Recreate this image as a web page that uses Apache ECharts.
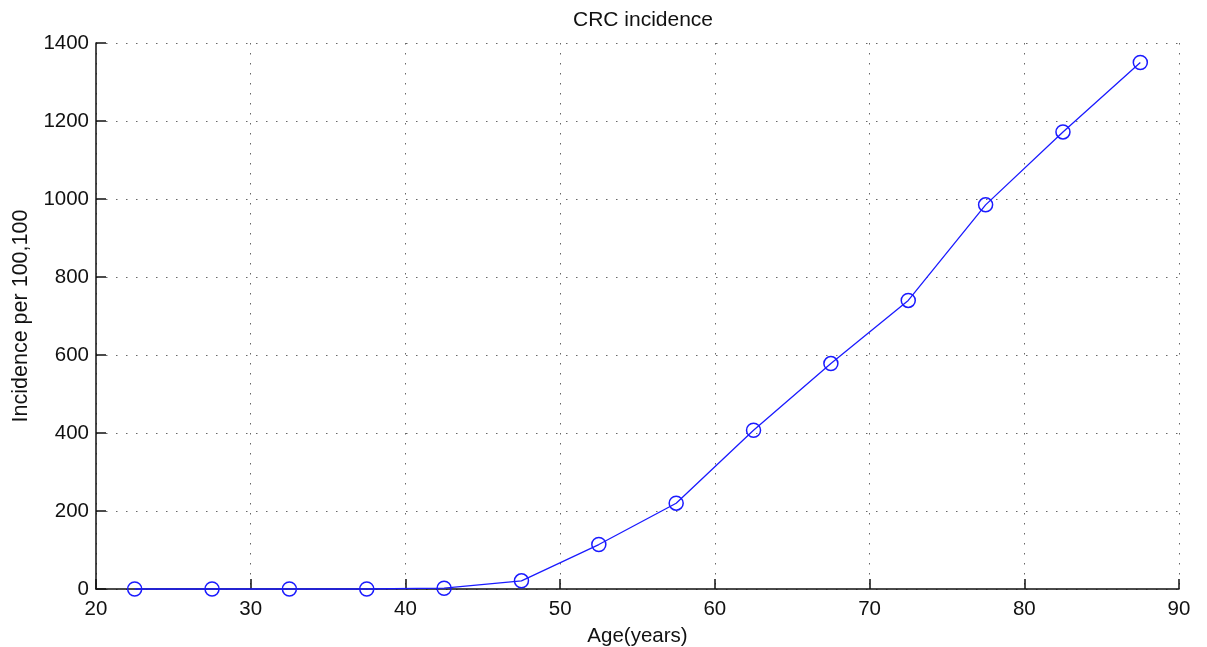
<!DOCTYPE html>
<html>
<head>
<meta charset="utf-8">
<title>CRC incidence</title>
<script src="https://cdn.jsdelivr.net/npm/echarts@6/dist/echarts.min.js"></script>
<style>
  html, body { margin: 0; padding: 0; background: #fff; }
  #chart { width: 1207px; height: 647px; }
</style>
</head>
<body>
<div id="chart"></div>
<script>
// Age-group midpoints (years) and colorectal cancer incidence
const ages = [22.5, 27.5, 32.5, 37.5, 42.5, 47.5, 52.5, 57.5, 62.5, 67.5, 72.5, 77.5, 82.5, 87.5];
const incidence = [0, 0, 0, 0, 2, 21, 114, 220, 407, 578, 740, 985, 1172, 1350];

const FONT = '"Liberation Sans", Arial, Helvetica, sans-serif';
const BLUE = '#1a1aff';
const gridDots = { color: '#666', width: 1, type: [1.5, 8.5] };

const chart = echarts.init(document.getElementById('chart'), null, { renderer: 'canvas' });

chart.setOption({
  animation: false,
  backgroundColor: '#ffffff',
  title: {
    text: 'CRC incidence',
    left: 638,
    top: 5,
    textAlign: 'center',
    textStyle: { fontFamily: FONT, fontSize: 21, fontWeight: 'normal', color: '#111' }
  },
  grid: {
    left: 96, right: 28, top: 43, bottom: 58,
    containLabel: false,
    outerBoundsMode: 'none'
  },
  xAxis: {
    type: 'value',
    min: 20, max: 90, interval: 10,
    name: 'Age(years)',
    nameLocation: 'middle',
    nameGap: 37,
    nameTextStyle: { fontFamily: FONT, fontSize: 20.5, color: '#111' },
    axisLine: { show: true, onZero: false, lineStyle: { color: '#111', width: 1.5 } },
    axisTick: { show: true, inside: true, length: 10, lineStyle: { color: '#111', width: 1.5 } },
    axisLabel: { fontFamily: FONT, fontSize: 20.5, color: '#111', margin: 10, formatter: v => String(v) },
    splitLine: { show: true, lineStyle: gridDots }
  },
  yAxis: {
    type: 'value',
    min: 0, max: 1400, interval: 200,
    name: 'Incidence per 100,100',
    nameLocation: 'middle',
    nameGap: 64,
    nameTextStyle: { fontFamily: FONT, fontSize: 21.5, color: '#111' },
    axisLine: { show: true, lineStyle: { color: '#111', width: 1.5 } },
    axisTick: { show: true, inside: true, length: 10, lineStyle: { color: '#111', width: 1.5 } },
    axisLabel: { fontFamily: FONT, fontSize: 20.5, color: '#111', margin: 7, formatter: v => String(v) },
    splitLine: { show: true, lineStyle: gridDots }
  },
  series: [{
    type: 'line',
    data: ages.map((a, i) => [a, incidence[i]]),
    symbol: 'circle',
    symbolSize: 14,
    showAllSymbol: true,
    lineStyle: { color: BLUE, width: 1.3 },
    itemStyle: { color: 'rgba(0,0,0,0)', borderColor: BLUE, borderWidth: 1.5 },
    clip: false
  }]
});
</script>
</body>
</html>
